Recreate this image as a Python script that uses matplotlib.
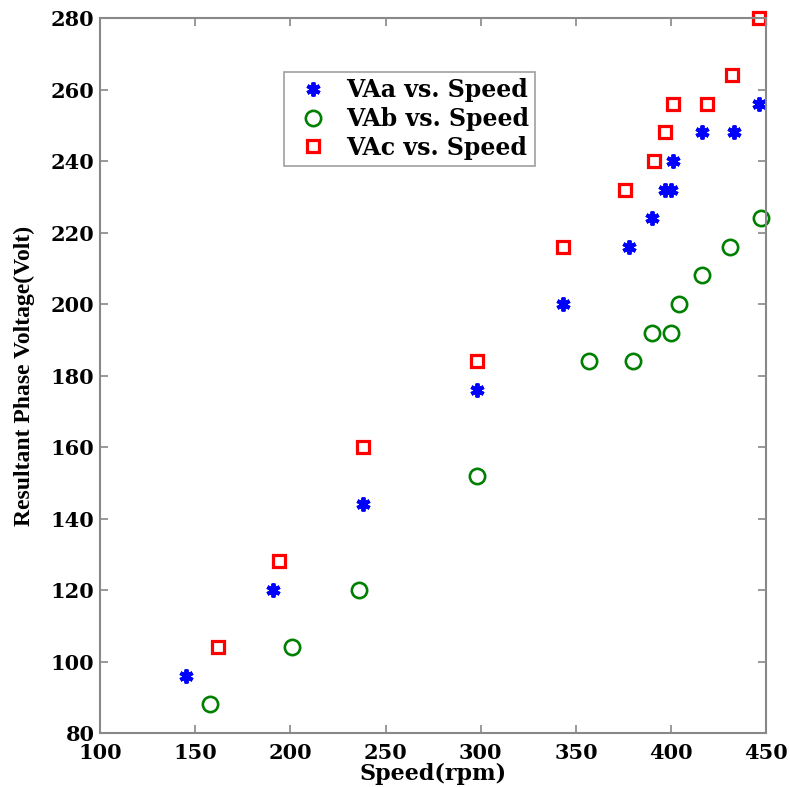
import matplotlib.pyplot as plt

# data
speed_a = [145, 191, 238, 298, 343, 378, 390, 397, 400, 401, 416, 433, 446]
volt_a = [96, 120, 144, 176, 200, 216, 224, 232, 232, 240, 248, 248, 256]

speed_b = [158, 201, 236, 298, 357, 380, 390, 400, 404, 416, 431, 447]
volt_b = [88, 104, 120, 152, 184, 184, 192, 192, 200, 208, 216, 224]

speed_c = [162, 194, 238, 298, 343, 376, 391, 397, 401, 419, 432, 446]
volt_c = [104, 128, 160, 184, 216, 232, 240, 248, 256, 256, 264, 280]

xticks = [100, 150, 200, 250, 300, 350, 400, 450]
yticks = [80, 100, 120, 140, 160, 180, 200, 220, 240, 260, 280]

wide = ['DejaVu Serif']
narrow = ['Liberation Serif', 'DejaVu Serif']
plt.rcParams['font.family'] = wide
plt.rcParams['font.weight'] = 'bold'

fig = plt.figure(figsize=(7.9, 7.87), dpi=100)
ax = fig.add_axes([0.1266, 0.0686, 0.8434, 0.9085])

ax.plot(speed_a, volt_a, linestyle='none', marker=(6, 2, 0), markersize=10,
        markeredgewidth=2.8, color='blue', label='VAa vs. Speed', clip_on=False)
ax.plot(speed_b, volt_b, linestyle='none', marker='o', markersize=11,
        markeredgewidth=1.9, markerfacecolor='none', markeredgecolor='green',
        label='VAb vs. Speed', clip_on=False)
ax.plot(speed_c, volt_c, linestyle='none', marker='s', markersize=9,
        markeredgewidth=2.3, markerfacecolor='none', markeredgecolor='red',
        label='VAc vs. Speed', clip_on=False)

ax.set_xlim(100, 450)
ax.set_ylim(80, 280)
ax.set_xticks(xticks)
ax.set_yticks(yticks)
ax.tick_params(direction='in', length=6, color='#888888', width=1.2,
               top=True, right=True, labelsize=15)
ax.tick_params(axis='x', pad=7)
ax.tick_params(axis='y', pad=4)
for lab in ax.get_xticklabels() + ax.get_yticklabels():
    lab.set_fontweight('bold')
for s in ax.spines.values():
    s.set_color('#888888')
    s.set_linewidth(1.5)

ax.set_xlabel('Speed(rpm)', fontsize=16, fontweight='bold', labelpad=0)
ax.set_ylabel('Resultant Phase Voltage(Volt)', fontsize=17, fontweight='bold',
              family=narrow, labelpad=11)

leg = ax.legend(loc='upper left', bbox_to_anchor=(0.276, 0.924), fontsize=17,
                fancybox=False, edgecolor='#888888', handletextpad=0.4,
                borderpad=0.25, labelspacing=0.2, handlelength=2.0,
                borderaxespad=0)
leg.get_frame().set_linewidth(1.2)
for t in leg.get_texts():
    t.set_fontweight('bold')

fig.savefig('out.png', dpi=100)
